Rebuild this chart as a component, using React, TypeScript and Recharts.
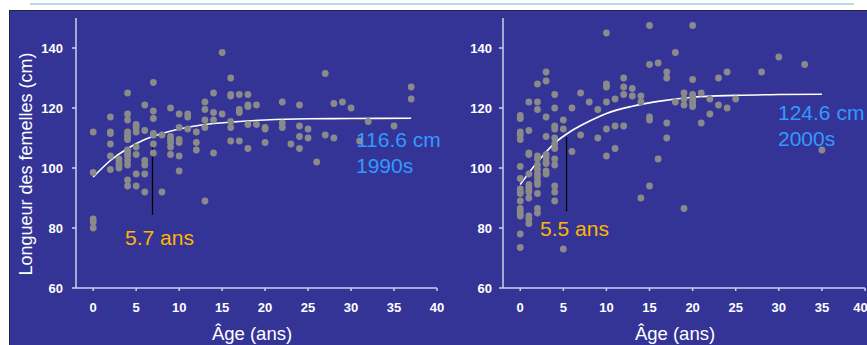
import { ComposedChart, Scatter, Line, XAxis, YAxis, ReferenceLine } from "recharts";

const ageTicks = [0, 5, 10, 15, 20, 25, 30, 35, 40];
const lengthTicks = [60, 80, 100, 120, 140];

// observed lengths grouped by age, 1990s
const obs1990: [number, number[]][] = [
  [0, [112, 98.5, 83, 82, 80]],
  [2, [117, 112, 111.5, 108, 104, 99.5]],
  [3, [103, 102, 101, 100]],
  [4, [125, 118, 116, 112, 111, 110.5, 109.5, 106, 105, 104, 102.5, 101, 96, 94]],
  [5, [114.5, 113.5, 112, 107, 104.5, 98, 94]],
  [6, [121, 112.5, 102.5, 101, 98, 92]],
  [7, [128.5, 119, 116.5, 111.5, 111, 108, 105]],
  [8, [111, 92]],
  [9, [120, 110.5, 109.5, 108.5, 107, 104.5]],
  [10, [118, 113.5, 109.5, 108.5, 104, 99]],
  [11, [118, 117, 113]],
  [12, [112, 108.5, 106]],
  [13, [122, 119.5, 116, 113.5, 89]],
  [14, [125, 118.5, 116, 105]],
  [15, [138.5, 118]],
  [16, [130, 124.5, 124, 115.5, 113.5, 109]],
  [17, [124.5, 119.5, 118.5, 109]],
  [18, [124.5, 121, 120.5, 114.5, 106.5]],
  [19, [121, 114.5]],
  [20, [113.5, 113, 108.5]],
  [22, [122, 115, 113.5]],
  [23, [108]],
  [24, [121, 114, 110.5, 106.5]],
  [25, [113, 110]],
  [26, [102]],
  [27, [131.5, 111]],
  [28, [121.5, 110]],
  [29, [122]],
  [30, [120]],
  [31, [109]],
  [32, [115.5]],
  [35, [114]],
  [37, [127, 123]],
];

// observed lengths grouped by age, 2000s
const obs2000: [number, number[]][] = [
  [0, [117.5, 116.5, 112, 111, 109.5, 100.5, 96.5, 93, 92, 91.5, 89, 86.5, 85.5, 84.5, 84, 78, 73.5]],
  [1, [122, 112.5, 105, 104.5, 98, 94.5, 93.5, 92.5, 92, 90, 84, 83, 81.5]],
  [2, [128, 122, 119.5, 104, 103, 101, 99.5, 98, 97, 95.5, 94.5, 91.5, 86.5, 85]],
  [3, [132, 129, 117, 110.5, 104.5, 103.5, 102, 101.5, 99, 98]],
  [4, [124.5, 120, 114, 113, 110, 108, 106.5, 103, 101, 94, 92, 89]],
  [5, [116, 113, 73]],
  [6, [120, 105.5]],
  [7, [125, 111]],
  [8, [122]],
  [9, [119.5, 110]],
  [10, [145, 128, 127, 122, 113, 104]],
  [11, [123, 114, 106.5]],
  [12, [130, 127, 124.5, 114]],
  [13, [126.5, 124]],
  [14, [124, 122, 90]],
  [15, [147.5, 134.5, 117, 116, 94]],
  [16, [135, 103]],
  [17, [132, 130, 115, 110]],
  [18, [138.5, 122]],
  [19, [125, 123, 121, 86.5]],
  [20, [147.5, 129.5, 124.5, 123.5, 122.5, 121.5, 120.5]],
  [21, [125, 115]],
  [22, [123, 118]],
  [23, [130, 121]],
  [24, [132, 120]],
  [25, [123]],
  [28, [132]],
  [30, [137]],
  [33, [134.5]],
  [35, [106]],
];

// growth curves
const fitAges1990 = [0, 2, 4, 6, 8, 10, 13, 16, 20, 25, 30, 37];
const fitLen1990 = [97, 102.5, 106.5, 109.5, 111.5, 113, 114.5, 115.3, 116, 116.4, 116.5, 116.6];
const fitAges2000 = [0, 2, 4, 6, 8, 10, 13, 16, 20, 25, 30, 35];
const fitLen2000 = [94.5, 102, 108.3, 112.5, 115.6, 118.2, 120.6, 122.2, 123.6, 124.2, 124.5, 124.6];

// maturity age marker: age, top, bottom
const mark1990 = [6.9, 108.9, 84.4];
const mark2000 = [5.37, 110.3, 85.6];

const toPoints = (obs: [number, number[]][]) =>
  obs.flatMap(([age, lens]) => lens.map((y) => ({ x: age, y })));
const toLine = (ages: number[], lens: number[]) => ages.map((x, i) => ({ x, y: lens[i] }));

const FONT = "'Liberation Sans', Arial, sans-serif";
const AXIS = "#cfd0e6";
const tickStyle = { fill: "#ffffff", fontSize: 13, fontWeight: 700, fontFamily: FONT };

const Dot = (props: any) => <circle cx={props.cx} cy={props.cy} r={3.4} fill="#8a8a8a" />;

const Panel = ({ obs, fit, mark, left, width, rightMargin, yWidth, tickGap }: any) => (
  <div style={{ position: "absolute", left, top: 0 }}>
    <ComposedChart
      width={width}
      height={345}
      margin={{ top: 18, right: rightMargin, bottom: 12, left: 0 }}
    >
      <XAxis
        type="number"
        dataKey="x"
        domain={[-2, 40]}
        ticks={ageTicks}
        allowDataOverflow
        height={45}
        tickSize={3}
        tickMargin={12}
        tick={tickStyle}
        axisLine={{ stroke: AXIS, strokeWidth: 1.5 }}
        tickLine={{ stroke: AXIS, strokeWidth: 1.5 }}
      />
      <YAxis
        type="number"
        dataKey="y"
        domain={[60, 150]}
        ticks={lengthTicks}
        allowDataOverflow
        width={yWidth}
        tickSize={4}
        tickMargin={tickGap}
        tick={tickStyle}
        axisLine={{ stroke: AXIS, strokeWidth: 1.5 }}
        tickLine={{ stroke: AXIS, strokeWidth: 1.5 }}
      />
      <Scatter data={obs} dataKey="y" shape={Dot} isAnimationActive={false} />
      <Line
        data={fit}
        dataKey="y"
        type="monotone"
        stroke="#ffffff"
        strokeWidth={1.6}
        dot={false}
        isAnimationActive={false}
      />
      <ReferenceLine
        segment={[
          { x: mark[0], y: mark[1] },
          { x: mark[0], y: mark[2] },
        ]}
        stroke="#000000"
        strokeWidth={1.3}
      />
    </ComposedChart>
  </div>
);

export default function App() {
  return (
    <div
      style={{
        position: "absolute",
        left: 0,
        top: 0,
        width: 867,
        height: 345,
        overflow: "hidden",
        background: "#ffffff",
        fontFamily: FONT,
      }}
    >
      <div
        style={{ position: "absolute", left: 30, top: 3, width: 824, height: 2, background: "#b6dbe3" }}
      />
      <div
        style={{
          position: "absolute",
          left: 9,
          top: 10,
          width: 860,
          height: 340,
          background: "#343497",
          borderTop: "1px solid #222244",
          borderLeft: "1px solid #222244",
        }}
      />
      <Panel
        obs={toPoints(obs1990)}
        fit={toLine(fitAges1990, fitLen1990)}
        mark={mark1990}
        left={0}
        width={460}
        rightMargin={23}
        yWidth={76}
        tickGap={9}
      />
      <Panel
        obs={toPoints(obs2000)}
        fit={toLine(fitAges2000, fitLen2000)}
        mark={mark2000}
        left={430}
        width={437}
        rightMargin={2}
        yWidth={73}
        tickGap={7}
      />
      <svg
        width={867}
        height={345}
        style={{ position: "absolute", left: 0, top: 0, pointerEvents: "none" }}
        fontFamily={FONT}
      >
        <text x={32} y={164} transform="rotate(-90, 32, 164)" textAnchor="middle" fontSize={18} fill="#ffffff">
          Longueur des femelles (cm)
        </text>
        <text x={252} y={340} textAnchor="middle" fontSize={18.5} fill="#ffffff">
          Âge (ans)
        </text>
        <text x={675} y={340} textAnchor="middle" fontSize={18.5} fill="#ffffff">
          Âge (ans)
        </text>
        <text x={356} y={147} fontSize={21} fill="#3399ff">116.6 cm</text>
        <text x={356} y={172.5} fontSize={21} fill="#3399ff">1990s</text>
        <text x={125} y={245} fontSize={21} fill="#ffb400">5.7 ans</text>
        <text x={778} y={120} fontSize={21} fill="#3399ff">124.6 cm</text>
        <text x={778} y={146} fontSize={21} fill="#3399ff">2000s</text>
        <text x={540} y={236} fontSize={21} fill="#ffb400">5.5 ans</text>
      </svg>
    </div>
  );
}
